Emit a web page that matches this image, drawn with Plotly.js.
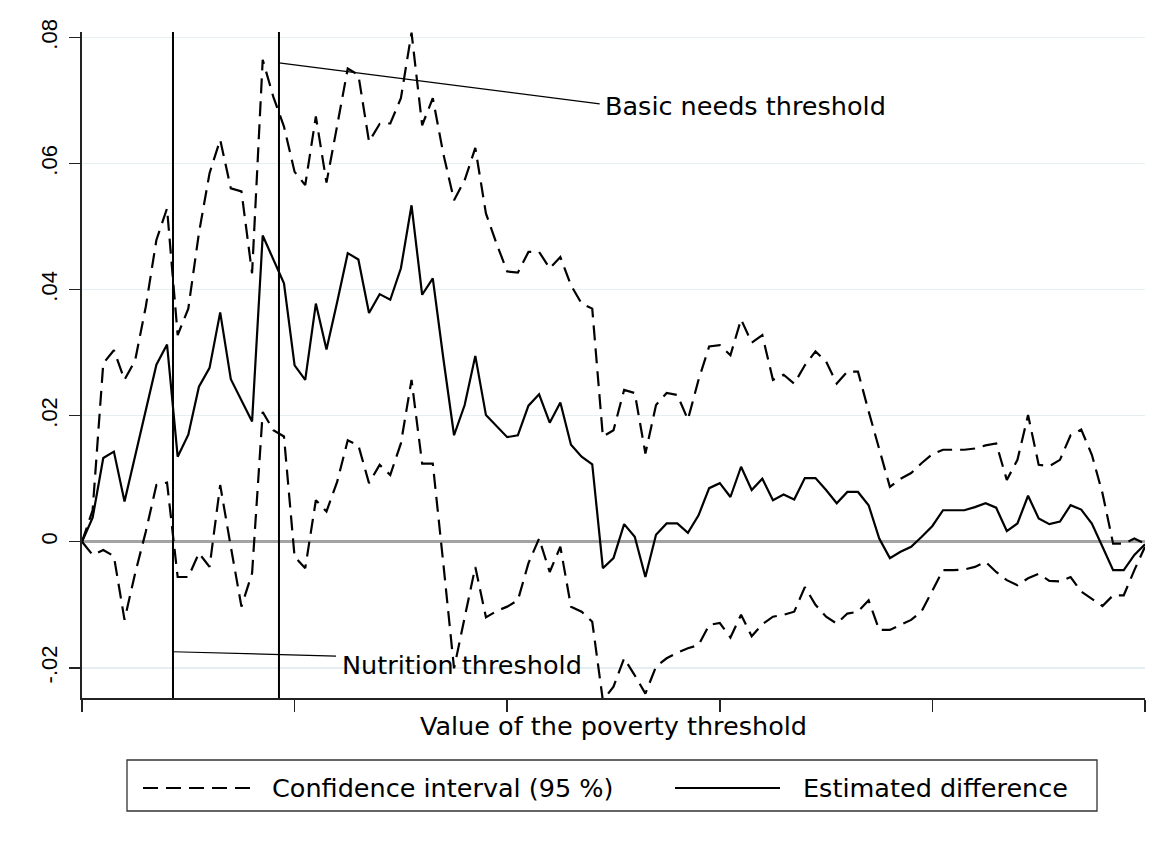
<!DOCTYPE html>
<html>
<head>
<meta charset="utf-8">
<script src="https://cdn.plot.ly/plotly-3.0.1.min.js"></script>
<style>
  html, body { margin: 0; padding: 0; background: #ffffff; }
  #chart { width: 1173px; height: 856px; }
</style>
</head>
<body>
<div id="chart"></div>
<script>
// Poverty threshold values (x)
const thresholdValues = [
  0,1,2,3,4,5,6,7,8,9,10,11,12,13,14,15,16,17,18,19,20,
  21,22,23,24,25,26,27,28,29,30,31,32,33,34,35,36,37,38,39,40,
  41,42,43,44,45,46,47,48,49,50,51,52,53,54,55,56,57,58,59,60,
  61,62,63,64,65,66,67,68,69,70,71,72,73,74,75,76,77,78,79,80,
  81,82,83,84,85,86,87,88,89,90,91,92,93,94,95,96,97,98,99,100
];

// Estimated difference
const estimatedDifference = [
  0, 0.0038, 0.0133, 0.0143, 0.0064, 0.0135, 0.0205, 0.0281, 0.0313, 0.0135,
  0.0170, 0.0246, 0.0276, 0.0364, 0.0258, 0.0225, 0.0191, 0.0486, 0.0447, 0.0410,
  0.0280, 0.0257, 0.0378, 0.0305, 0.0380, 0.0458, 0.0448, 0.0363, 0.0393, 0.0384,
  0.0434, 0.0534, 0.0392, 0.0418, 0.0290, 0.0169, 0.0217, 0.0295, 0.0201, 0.0183,
  0.0166, 0.0169, 0.0216, 0.0234, 0.0189, 0.0221, 0.0154, 0.0135, 0.0123, -0.0042,
  -0.0026, 0.0028, 0.0008, -0.0056, 0.0011, 0.0029, 0.0029, 0.0014, 0.0042, 0.0085,
  0.0093, 0.0071, 0.0119, 0.0082, 0.0100, 0.0066, 0.0075, 0.0067, 0.0101, 0.0101,
  0.0082, 0.0061, 0.0079, 0.0079, 0.0058, 0.0005, -0.0026, -0.0016, -0.0008, 0.0008,
  0.0025, 0.0050, 0.0050, 0.0050, 0.0055, 0.0061, 0.0054, 0.0017, 0.0029, 0.0073,
  0.0037, 0.0028, 0.0032, 0.0058, 0.0051, 0.0029, -0.0008, -0.0045, -0.0045, -0.0021,
  -0.0004
];

// Upper bound of the 95 % confidence interval
const ciUpper = [
  0, 0.0050, 0.0283, 0.0304, 0.0257, 0.0288, 0.0373, 0.0479, 0.0529, 0.0328,
  0.0370, 0.0490, 0.0585, 0.0638, 0.0561, 0.0556, 0.0426, 0.0765, 0.0706, 0.0659,
  0.0587, 0.0566, 0.0675, 0.0570, 0.0660, 0.0751, 0.0741, 0.0635, 0.0663, 0.0664,
  0.0704, 0.0808, 0.0661, 0.0704, 0.0615, 0.0542, 0.0574, 0.0625, 0.0521, 0.0473,
  0.0429, 0.0427, 0.0460, 0.0460, 0.0434, 0.0452, 0.0407, 0.0378, 0.0370, 0.0167,
  0.0177, 0.0241, 0.0236, 0.0140, 0.0217, 0.0236, 0.0233, 0.0194, 0.0257, 0.0310,
  0.0312, 0.0296, 0.0353, 0.0316, 0.0328, 0.0257, 0.0265, 0.0251, 0.0280, 0.0302,
  0.0286, 0.0251, 0.0270, 0.0270, 0.0207, 0.0145, 0.0087, 0.0100, 0.0109, 0.0125,
  0.0139, 0.0146, 0.0146, 0.0146, 0.0148, 0.0153, 0.0156, 0.0098, 0.0130, 0.0201,
  0.0122, 0.0120, 0.0130, 0.0169, 0.0178, 0.0138, 0.0077, -0.0003, -0.0003, 0.0005,
  -0.0003
];

// Lower bound of the 95 % confidence interval
const ciLower = [
  0, -0.0021, -0.0013, -0.0023, -0.0124, -0.0050, 0.0016, 0.0090, 0.0094, -0.0056,
  -0.0056, -0.0018, -0.0040, 0.0090, -0.0008, -0.0103, -0.0050, 0.0206, 0.0177, 0.0167,
  -0.0024, -0.0042, 0.0066, 0.0048, 0.0095, 0.0161, 0.0153, 0.0093, 0.0122, 0.0106,
  0.0156, 0.0257, 0.0124, 0.0124, -0.0036, -0.0201, -0.0120, -0.0040, -0.0120, -0.0110,
  -0.0103, -0.0093, -0.0034, 0.0005, -0.0048, -0.0008, -0.0103, -0.0111, -0.0127, -0.0252,
  -0.0230, -0.0185, -0.0212, -0.0241, -0.0198, -0.0185, -0.0176, -0.0169, -0.0164, -0.0132,
  -0.0129, -0.0152, -0.0116, -0.0150, -0.0131, -0.0119, -0.0116, -0.0111, -0.0072, -0.0100,
  -0.0119, -0.0130, -0.0114, -0.0111, -0.0093, -0.0140, -0.0140, -0.0132, -0.0124, -0.0110,
  -0.0078, -0.0045, -0.0045, -0.0044, -0.0040, -0.0032, -0.0048, -0.0061, -0.0069, -0.0058,
  -0.0051, -0.0062, -0.0063, -0.0056, -0.0079, -0.0090, -0.0102, -0.0085, -0.0085, -0.0045,
  -0.0008
];

// Threshold markers
const thresholdNames = ['Nutrition threshold', 'Basic needs threshold'];
const thresholdPositions = [8.56, 18.53];

// Axis ticks
const yTickValues = [-0.02, 0, 0.02, 0.04, 0.06, 0.08];
const yTickLabels = ['-.02', '0', '.02', '.04', '.06', '.08'];
const xTickValues = [0, 20, 40, 60, 80, 100];

const legendLabels = ['Confidence interval (95 %)', 'Estimated difference'];
const xAxisTitle = 'Value of the poverty threshold';

// ---- layout geometry ----
const W = 1173, H = 856;
const M = {l: 82, r: 28, t: 32, b: 158};
const PW = W - M.l - M.r, PH = H - M.t - M.b;
function px(xp) { return (xp - M.l) / PW; }
function py(yp) { return (H - M.b - yp) / PH; }

const TEXT_FONT = {family: 'DejaVu Sans, sans-serif', size: 25.5, color: '#000000'};
const DASH = '15px,8px';
const LW = 2.2;

const traces = [
  {
    x: thresholdValues, y: ciUpper, type: 'scatter', mode: 'lines',
    name: legendLabels[0], showlegend: false,
    line: {color: '#000000', width: LW, dash: DASH}
  },
  {
    x: thresholdValues, y: ciLower, type: 'scatter', mode: 'lines',
    name: legendLabels[0], showlegend: false,
    line: {color: '#000000', width: LW, dash: DASH}
  },
  {
    x: thresholdValues, y: estimatedDifference, type: 'scatter', mode: 'lines',
    name: legendLabels[1], showlegend: false,
    line: {color: '#000000', width: LW}
  }
];

const shapes = [];
const annotations = [];

// vertical threshold lines
thresholdPositions.forEach(function (v) {
  shapes.push({type: 'line', xref: 'x', yref: 'paper', x0: v, x1: v, y0: 0, y1: 1,
    line: {color: '#000000', width: 2}});
});

// Nutrition threshold label + connector
shapes.push({type: 'line', xref: 'x', yref: 'y',
  x0: thresholdPositions[0], y0: -0.01746, x1: 23.9, y1: -0.01814,
  line: {color: '#000000', width: 1.2}});
annotations.push({xref: 'x', yref: 'y', x: 24.3, y: -0.01957, xanchor: 'left', yanchor: 'middle',
  text: thresholdNames[0], showarrow: false, font: TEXT_FONT});

// Basic needs threshold label + connector
shapes.push({type: 'line', xref: 'x', yref: 'y',
  x0: thresholdPositions[1], y0: 0.0760, x1: 48.7, y1: 0.0695,
  line: {color: '#000000', width: 1.2}});
annotations.push({xref: 'x', yref: 'y', x: 49.05, y: 0.0692, xanchor: 'left', yanchor: 'middle',
  text: thresholdNames[1], showarrow: false, font: TEXT_FONT});

// manual legend
shapes.push({type: 'rect', xref: 'paper', yref: 'paper',
  x0: px(127), x1: px(1097), y0: py(760), y1: py(811),
  line: {color: '#333333', width: 1.3}, fillcolor: 'rgba(0,0,0,0)'});
shapes.push({type: 'line', xref: 'paper', yref: 'paper',
  x0: px(143), x1: px(250), y0: py(788), y1: py(788),
  line: {color: '#000000', width: LW, dash: DASH}});
shapes.push({type: 'line', xref: 'paper', yref: 'paper',
  x0: px(675), x1: px(780), y0: py(788), y1: py(788),
  line: {color: '#000000', width: LW}});
annotations.push({xref: 'paper', yref: 'paper', x: px(270), y: py(788), xanchor: 'left', yanchor: 'middle',
  text: legendLabels[0], showarrow: false, font: TEXT_FONT});
annotations.push({xref: 'paper', yref: 'paper', x: px(801), y: py(788), xanchor: 'left', yanchor: 'middle',
  text: legendLabels[1], showarrow: false, font: TEXT_FONT});

const layout = {
  width: W, height: H,
  margin: M,
  paper_bgcolor: '#ffffff',
  plot_bgcolor: '#ffffff',
  showlegend: false,
  xaxis: {
    range: [0, 100],
    tickvals: xTickValues,
    showticklabels: false,
    ticks: 'outside', ticklen: 12, tickwidth: 1.5, tickcolor: '#222222',
    showgrid: false, zeroline: false,
    showline: true, linecolor: '#222222', linewidth: 1.6,
    title: {text: xAxisTitle, font: TEXT_FONT, standoff: 6}
  },
  yaxis: {
    range: [-0.0248, 0.0809],
    tickvals: yTickValues, ticktext: yTickLabels,
    tickangle: -90,
    ticklabelstandoff: 4,
    tickfont: {family: 'Liberation Sans, Arial, sans-serif', size: 22, color: '#000000'},
    ticks: 'outside', ticklen: 11, tickwidth: 1.5, tickcolor: '#222222',
    showgrid: true, gridcolor: '#e5eef1', gridwidth: 1.5,
    zeroline: true, zerolinecolor: '#a3a3a3', zerolinewidth: 2.5,
    showline: true, linecolor: '#222222', linewidth: 1.6
  },
  shapes: shapes,
  annotations: annotations
};

Plotly.newPlot('chart', traces, layout, {displayModeBar: false, staticPlot: true});
</script>
</body>
</html>
